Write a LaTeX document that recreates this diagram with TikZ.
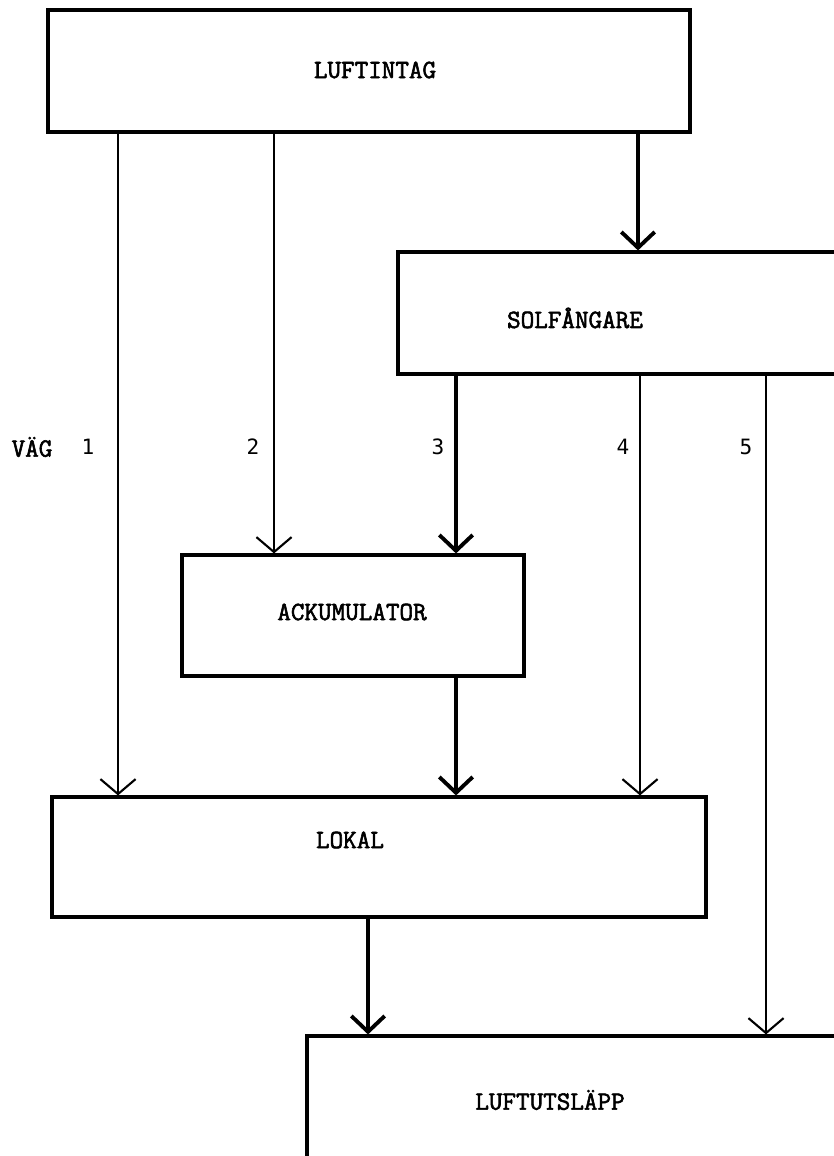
\documentclass[tikz,border=0pt]{standalone}
\usepackage{fontspec}
\usepackage{tikz}
\usetikzlibrary{
  arrows.meta,
  positioning
}
\newfontfamily\boxfont{Latin Modern Mono}[FakeBold=2.2]
\newfontfamily\digitfont{DejaVu Sans Mono}
\tikzset{
  flowthin/.style={-{Straight Barb[length=8.5pt,width=20pt]},line width=1.2pt,line cap=round},
  flowthick/.style={-{Straight Barb[length=9pt,width=19pt]},line width=2.2pt,line cap=round}
}

\begin{document}
\begin{tikzpicture}[
  x=0.02cm, y=-0.02cm,
  unitbox/.style={draw, line width=1.8pt, minimum height=2.44cm, inner sep=0pt},
  boxtext/.style={font=\boxfont\fontsize{15}{17}\selectfont},
  pathno/.style={font=\digitfont\fontsize{12}{14}\selectfont}
]
\useasboundingbox (0,0) rectangle (834,1156);
\clip (0,0) rectangle (834,1156);

% boxes
\node[unitbox, minimum width=12.84cm] (intag) at (369,71) {};
\node[unitbox, minimum width=10.04cm] (sol) at (649,313) {};
\node[unitbox, minimum width=6.84cm, minimum height=2.42cm] (ack) at (353,615.5) {};
\node[unitbox, minimum width=13.08cm, minimum height=2.40cm] (lokal) at (379,857) {};
\node[unitbox, minimum width=11.86cm, minimum height=3.28cm] (utslapp) at (603.5,1118) {};

\node[boxtext] (intagtxt) at (375,70) {LUFTINTAG};
\node[boxtext] (soltxt) at (575,318) {SOLFÅNGARE};
\node[boxtext] (acktxt) at (352,612) {ACKUMULATOR};
\node[boxtext] (lokaltxt) at (350,840) {LOKAL};
\node[boxtext] (utslapptxt) at (550,1100) {LUFTUTSLÄPP};

% columns of the paths
\coordinate (v1) at (118,0);
\coordinate (v2) at (274,0);
\coordinate (v3) at (456,0);
\coordinate (v4) at (640,0);
\coordinate (v5) at (766,0);
\coordinate (vin) at (638,0);
\coordinate (vout) at (368,0);

\draw[flowthin] (intag.south -| v1) -- (lokal.north -| v1);
\draw[flowthin] (intag.south -| v2) -- (ack.north -| v2);
\draw[flowthick] (intag.south -| vin) -- (sol.north -| vin);
\draw[flowthick] (sol.south -| v3) -- (ack.north -| v3);
\draw[flowthin] (sol.south -| v4) -- (lokal.north -| v4);
\draw[flowthin] (sol.south -| v5) -- (utslapp.north -| v5);
\draw[flowthick] (ack.south -| v3) -- (lokal.north -| v3);
\draw[flowthick] (lokal.south -| vout) -- (utslapp.north -| vout);

% path numbers
\node[boxtext] (vag) at (32,447) {VÄG};
\node[pathno] (n1) at (88,447) {1};
\node[pathno] (n2) at (253,447) {2};
\node[pathno] (n3) at (438,447) {3};
\node[pathno] (n4) at (623,447) {4};
\node[pathno] (n5) at (746,447) {5};
\end{tikzpicture}
\end{document}
